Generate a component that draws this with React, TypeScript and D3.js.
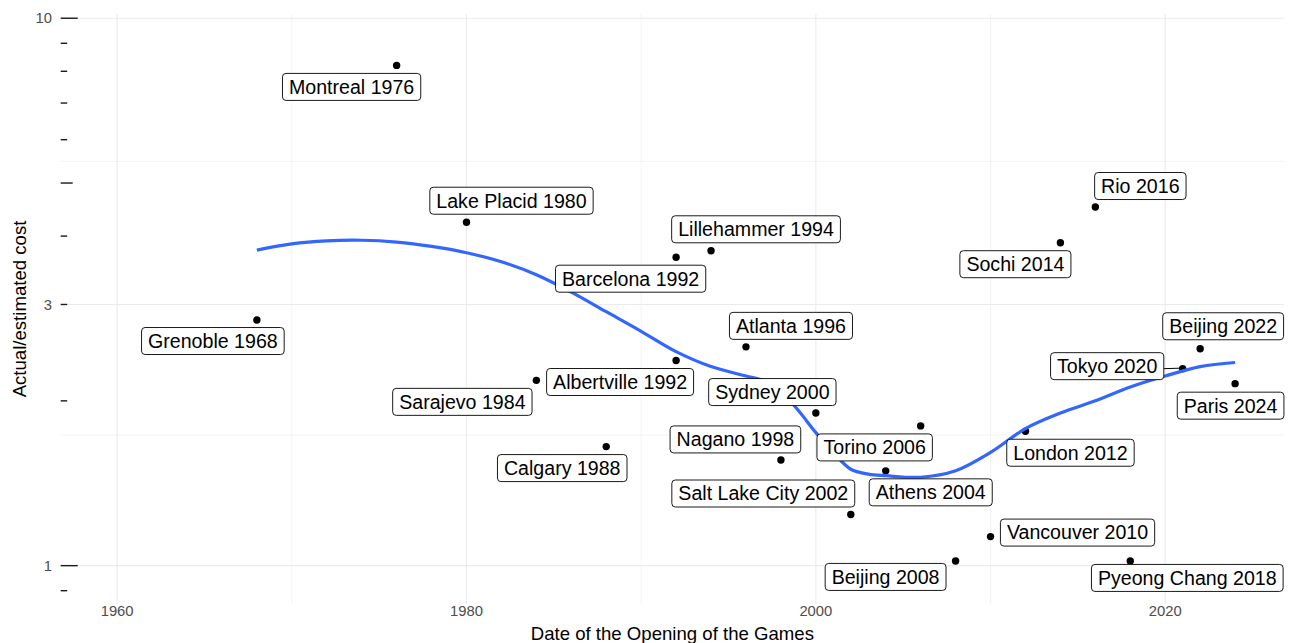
import React from "react";
import * as d3 from "d3";

// ---------- data ----------
const games = [
  "Grenoble 1968", "Montreal 1976", "Lake Placid 1980", "Sarajevo 1984", "Calgary 1988",
  "Albertville 1992", "Barcelona 1992", "Lillehammer 1994", "Atlanta 1996", "Nagano 1998",
  "Sydney 2000", "Salt Lake City 2002", "Athens 2004", "Torino 2006", "Beijing 2008",
  "Vancouver 2010", "London 2012", "Sochi 2014", "Rio 2016", "Pyeong Chang 2018",
  "Tokyo 2020", "Beijing 2022", "Paris 2024",
];
const openingYear = [
  1968, 1976, 1980, 1984, 1988, 1992, 1992, 1994, 1996, 1998, 2000, 2002, 2004, 2006, 2008,
  2010, 2012, 2014, 2016, 2018, 2021, 2022, 2024,
];
const costRatio = [
  2.81, 8.2, 4.24, 2.18, 1.65, 2.37, 3.66, 3.76, 2.51, 1.56, 1.9, 1.24, 1.49, 1.8, 1.02,
  1.13, 1.76, 3.89, 4.52, 1.02, 2.29, 2.49, 2.15,
];

// smoothed trend
const smoothYears = [
  1968, 1970, 1972, 1974, 1976, 1978, 1980, 1982, 1984, 1986, 1988, 1990, 1992, 1994, 1996,
  1997, 1998, 1999, 2000, 2001, 2002, 2003, 2004, 2006, 2008, 2010, 2012, 2014, 2016, 2018,
  2020, 2022, 2024,
];
const smoothValues = [
  3.77, 3.87, 3.92, 3.93, 3.9, 3.83, 3.73, 3.59, 3.4, 3.16, 2.91, 2.68, 2.46, 2.31, 2.22,
  2.18, 2.08, 1.92, 1.75, 1.61, 1.5, 1.47, 1.46, 1.45, 1.49, 1.61, 1.78, 1.9, 2.0, 2.12,
  2.22, 2.31, 2.35,
];

const xTickValues = [1960, 1980, 2000, 2020];
const xMinorValues = [1970, 1990, 2010];
const yTickValues = [1, 3, 10];
const yMinorValues = [Math.sqrt(3), Math.sqrt(30)];
const logTicksLong = [1, 10];
const logTicksMid = [5];
const logTicksShort = [0.9, 2, 3, 4, 6, 7, 8, 9];

// label placement (box centre relative to point, px)
const labelDx = [
  -44, -45, 45, -74, -44, -56, -45.5, 45, 45, -45.5, -43.5, -87.5, 45, -46, -70, 87, 45, -45,
  45, 57, -75.5, 23, -4.5,
];
const labelDy = [
  21, 21.5, -21.5, 21.5, 21.5, 21.5, 21.5, -21.5, -21, -20.5, -21, -21, 21.5, 21.5, 16, -4,
  21.5, 21.5, -21, 17, -2.5, -22.5, 22,
];

// ---------- layout ----------
const W = 1289;
const H = 643;
const panel = { left: 60.7, right: 1284, top: 14, bottom: 604 };
const FONT = '"Liberation Sans", Arial, Helvetica, sans-serif';
const labelSize = 19.6;
const tickSize = 14.8;
const titleSize = 18.6;

function measure(text: string, size: number) {
  const c = document.createElement("canvas").getContext("2d");
  if (!c) return text.length * size * 0.55;
  c.font = `${size}px ${FONT}`;
  return c.measureText(text).width;
}

export default function App() {
  const x = d3.scaleLinear().domain([1956.77, 2026.8]).range([panel.left, panel.right]);
  const y = d3.scaleLog().domain([0.851, 10.18]).range([panel.bottom, panel.top]);

  const line = d3
    .line<number>()
    .x((_, i) => x(smoothYears[i]))
    .y((d) => y(d))
    .curve(d3.curveCatmullRom.alpha(0.5));

  const grid = "#ebebeb";

  const labels = games.map((g, i) => {
    const px = x(openingYear[i]);
    const py = y(costRatio[i]);
    const tw = measure(g, labelSize);
    const bw = tw + 13;
    const bh = 27;
    const cx = px + labelDx[i];
    const cy = py + labelDy[i];
    const bx0 = cx - bw / 2;
    const by0 = cy - bh / 2;
    const nx = Math.max(bx0, Math.min(px, bx0 + bw));
    const ny = Math.max(by0, Math.min(py, by0 + bh));
    const dist = Math.hypot(px - nx, py - ny);
    return { g, px, py, cx, cy, bw, bh, bx0, by0, nx, ny, dist };
  });

  return (
    <svg
      width={W}
      height={H}
      style={{ position: "absolute", left: 0, top: 0, background: "white" }}
      fontFamily={FONT}
    >
      {/* grid */}
      <g>
        {yMinorValues.map((v) => (
          <line key={"ym" + v} x1={panel.left} x2={panel.right} y1={y(v)} y2={y(v)} stroke={grid} strokeWidth={0.6} />
        ))}
        {xMinorValues.map((v) => (
          <line key={"xm" + v} x1={x(v)} x2={x(v)} y1={panel.top} y2={panel.bottom} stroke={grid} strokeWidth={0.6} />
        ))}
        {yTickValues.map((v) => (
          <line key={"y" + v} x1={panel.left} x2={panel.right} y1={y(v)} y2={y(v)} stroke={grid} strokeWidth={1.1} />
        ))}
        {xTickValues.map((v) => (
          <line key={"x" + v} x1={x(v)} x2={x(v)} y1={panel.top} y2={panel.bottom} stroke={grid} strokeWidth={1.1} />
        ))}
      </g>

      {/* log ticks */}
      <g stroke="#1a1a1a" strokeWidth={1.4}>
        {logTicksLong.map((v) => (
          <line key={"l" + v} x1={panel.left} x2={panel.left + 17} y1={y(v)} y2={y(v)} />
        ))}
        {logTicksMid.map((v) => (
          <line key={"m" + v} x1={panel.left} x2={panel.left + 12} y1={y(v)} y2={y(v)} />
        ))}
        {logTicksShort.map((v) => (
          <line key={"s" + v} x1={panel.left} x2={panel.left + 6.5} y1={y(v)} y2={y(v)} />
        ))}
      </g>

      {/* axis labels */}
      <g fill="#4d4d4d" fontSize={tickSize}>
        {yTickValues.map((v) => (
          <text key={"yt" + v} x={52} y={y(v)} dy="0.35em" textAnchor="end">
            {d3.format("~g")(v)}
          </text>
        ))}
        {xTickValues.map((v) => (
          <text key={"xt" + v} x={x(v)} y={615.5} textAnchor="middle">
            {v}
          </text>
        ))}
      </g>
      <text x={(panel.left + panel.right) / 2} y={640} textAnchor="middle" fontSize={titleSize} fill="#000">
        Date of the Opening of the Games
      </text>
      <text
        transform={`translate(25.5, ${(panel.top + panel.bottom) / 2}) rotate(-90)`}
        textAnchor="middle"
        fontSize={titleSize}
        fill="#000"
      >
        Actual/estimated cost
      </text>

      {/* points */}
      <g fill="#000">
        {labels.map((l, i) => (
          <circle key={"p" + i} cx={l.px} cy={l.py} r={3.7} />
        ))}
      </g>

      {/* smooth */}
      <path d={line(smoothValues) || ""} fill="none" stroke="#3366FF" strokeWidth={3.2} />

      {/* segments */}
      <g stroke="#000" strokeWidth={1}>
        {labels.map((l, i) =>
          l.dist > 12 ? <line key={"sg" + i} x1={l.nx} y1={l.ny} x2={l.px - 2} y2={l.py - 0.5} /> : null
        )}
      </g>

      {/* labels */}
      <g>
        {labels.map((l, i) => (
          <g key={"lb" + i}>
            <rect x={l.bx0} y={l.by0} width={l.bw} height={l.bh} rx={3.5} ry={3.5} fill="white" stroke="#000" strokeWidth={0.9} />
            <text x={l.cx} y={l.cy + 6.9} textAnchor="middle" fontSize={labelSize} fill="#000">
              {l.g}
            </text>
          </g>
        ))}
      </g>
    </svg>
  );
}
